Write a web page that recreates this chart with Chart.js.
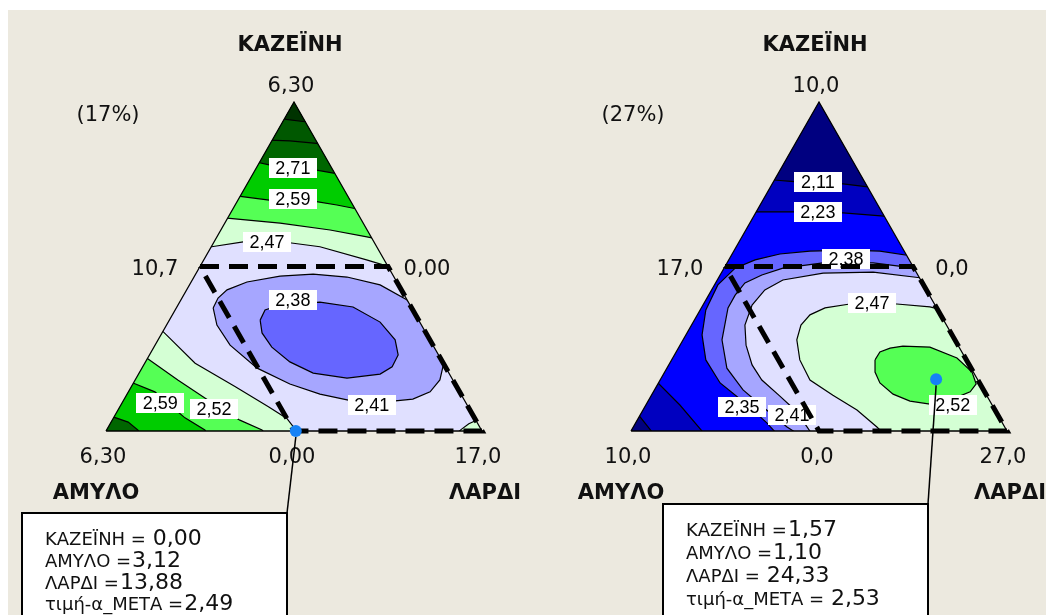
<!DOCTYPE html>
<html>
<head>
<meta charset="utf-8">
<script src="https://cdn.jsdelivr.net/npm/chart.js@4.4.1/dist/chart.umd.min.js"></script>
<style>
  html, body { margin: 0; padding: 0; background: #fff; }
  #stage { position: relative; width: 1046px; height: 615px; overflow: hidden; background: #fff; }
  #paper { position: absolute; left: 8px; top: 10px; right: 0; bottom: 0; background: #ECE9DF; }
  canvas { position: absolute; top: 0; }
  #cLeft { left: 0; }
  #cRight { left: 525px; }
</style>
</head>
<body>
<div id="stage">
  <div id="paper"></div>
  <canvas id="cLeft" width="525" height="615"></canvas>
  <canvas id="cRight" width="521" height="615"></canvas>
</div>
<script>
// Simplex frame used by both plots: x runs along the ΑΜΥΛΟ–ΛΑΡΔΙ base (0 → 1),
// y is the ΚΑΖΕΪΝΗ pseudo-fraction (0 at the base, 1 at the top vertex).

// ---------- 17% mixture ----------
const bounds17 = [0, 0, 10.7];          // lower bounds: ΚΑΖΕΪΝΗ, ΑΜΥΛΟ, ΛΑΡΔΙ
const total17 = 17;
const caps17 = [3.15, 3.15];             // upper limits of ΚΑΖΕΪΝΗ and ΑΜΥΛΟ (dashed region)
const ticks17 = ['6,30', '6,30', '17,0', '10,7', '0,00', '0,00'];
const top247_17 = [[0.265,0.562],[0.281,0.560],[0.365,0.575],[0.463,0.576],[0.569,0.560],[0.693,0.520],[0.737,0.505],[0.765,0.494]];
const top252_17 = [[0.31,0.650],[0.322,0.647],[0.463,0.632],[0.596,0.611],[0.694,0.590],[0.72,0.584]];
const top259_17 = [[0.34,0.717],[0.352,0.714],[0.434,0.702],[0.56,0.697],[0.614,0.687],[0.658,0.677],[0.675,0.673]];
const top271_17 = [[0.39,0.820],[0.405,0.816],[0.434,0.809],[0.56,0.793],[0.609,0.783],[0.625,0.780]];
const top283_17 = [[0.425,0.886],[0.434,0.884],[0.489,0.882],[0.56,0.874],[0.58,0.870]];
const top295_17 = [[0.465,0.952],[0.479,0.947],[0.529,0.940],[0.545,0.937]];
const low247_17 = [[0.145,0.305],[0.152,0.302],[0.237,0.206],[0.343,0.135],[0.432,0.074],[0.481,0.038],[0.505,0.003],[0.515,-0.01]];
const low252_17 = [[0.105,0.224],[0.112,0.219],[0.191,0.155],[0.287,0.082],[0.356,0.033],[0.415,0.003],[0.425,-0.01]];
const low259_17 = [[0.065,0.150],[0.072,0.146],[0.13,0.119],[0.17,0.079],[0.21,0.040],[0.263,0.003],[0.27,-0.01]];
const low271_17 = [[0.012,0.047],[0.019,0.043],[0.059,0.027],[0.085,0.003],[0.09,-0.01]];
const corner247_17 = [[0.93,-0.01],[0.945,0.005],[0.965,0.022],[0.99,0.035]];
const ring241_17 = [[0.285,0.374],[0.298,0.404],[0.322,0.429],[0.375,0.453],[0.463,0.471],[0.551,0.477],[0.641,0.468],[0.729,0.444],[0.801,0.398],[0.848,0.343],[0.883,0.277],[0.899,0.210],[0.888,0.155],[0.862,0.119],[0.816,0.097],[0.763,0.091],[0.657,0.091],[0.569,0.112],[0.489,0.143],[0.402,0.191],[0.330,0.261],[0.295,0.322]];
const ring238_17 = [[0.410,0.337],[0.423,0.368],[0.463,0.383],[0.569,0.392],[0.657,0.377],[0.729,0.331],[0.769,0.277],[0.777,0.231],[0.761,0.195],[0.729,0.173],[0.641,0.161],[0.551,0.176],[0.489,0.210],[0.441,0.255],[0.415,0.298]];
const labelValues17 = [2.71, 2.59, 2.47, 2.38, 2.41, 2.59, 2.52];
const labelSpots17 = [[0.497,0.799],[0.497,0.704],[0.428,0.574],[0.497,0.398],[0.707,0.079],[0.144,0.084],[0.287,0.068]];
const point17 = [0.00, 3.12, 13.88];     // ΚΑΖΕΪΝΗ, ΑΜΥΛΟ, ΛΑΡΔΙ
const response17 = 2.49;

// ---------- 27% mixture ----------
const bounds27 = [0, 0, 17.0];
const total27 = 27;
const caps27 = [5.0, 5.0];
const ticks27 = ['10,0', '10,0', '27,0', '17,0', '0,0', '0,0'];
const top211_27 = [[0.37,0.765],[0.380,0.763],[0.441,0.757],[0.564,0.751],[0.630,0.742],[0.645,0.739]];
const top223_27 = [[0.32,0.668],[0.332,0.666],[0.449,0.666],[0.564,0.663],[0.673,0.653],[0.69,0.650]];
const low223_27 = [[0.065,0.150],[0.072,0.146],[0.13,0.079],[0.191,-0.003],[0.2,-0.012]];
const low211_27 = [[0.015,0.048],[0.024,0.043],[0.056,-0.003],[0.06,-0.01]];
const arc235_27 = [[0.388,-0.009],[0.362,0.024],[0.303,0.085],[0.237,0.146],[0.199,0.216],[0.189,0.292],[0.199,0.368],[0.231,0.444],[0.277,0.495],[0.330,0.520],[0.396,0.538],[0.476,0.547],[0.582,0.550],[0.662,0.547],[0.747,0.532],[0.76,0.530]];
const arc238_27 = [[0.444,-0.009],[0.415,0.012],[0.351,0.073],[0.298,0.125],[0.255,0.191],[0.242,0.277],[0.258,0.374],[0.277,0.413],[0.303,0.450],[0.348,0.474],[0.404,0.495],[0.511,0.511],[0.644,0.511],[0.755,0.495],[0.77,0.492]];
const arc241_27 = [[0.481,-0.009],[0.465,0.018],[0.436,0.064],[0.396,0.106],[0.348,0.155],[0.322,0.201],[0.306,0.261],[0.303,0.322],[0.322,0.383],[0.356,0.429],[0.404,0.459],[0.511,0.480],[0.644,0.483],[0.774,0.465],[0.79,0.462]];
const arc247_27 = [[0.673,-0.009],[0.654,0.012],[0.601,0.064],[0.537,0.109],[0.476,0.155],[0.449,0.216],[0.441,0.277],[0.452,0.322],[0.476,0.353],[0.516,0.374],[0.582,0.386],[0.707,0.386],[0.795,0.377],[0.848,0.362]];
const ring252_27 = [[0.649,0.216],[0.662,0.240],[0.689,0.252],[0.723,0.258],[0.795,0.255],[0.867,0.222],[0.907,0.179],[0.918,0.143],[0.902,0.119],[0.848,0.094],[0.795,0.082],[0.742,0.091],[0.697,0.112],[0.662,0.146],[0.649,0.179]];
const labelValues27 = [2.11, 2.23, 2.38, 2.47, 2.35, 2.41, 2.52];
const labelSpots27 = [[0.497,0.757],[0.497,0.666],[0.572,0.523],[0.641,0.389],[0.295,0.073],[0.428,0.049],[0.856,0.079]];
const point27 = [1.57, 1.10, 24.33];
const response27 = 2.53;

const componentNames = ['ΚΑΖΕΪΝΗ', 'ΑΜΥΛΟ', 'ΛΑΡΔΙ'];
const responseName = 'τιμή-α_ΜΕΤΑ';

// contour band colours
const PALE = '#D4FFD4', G1 = '#55FF55', G2 = '#00CC00', G3 = '#006600', G4 = '#005800', G5 = '#003300';
const LAV = '#E0E0FF', B4 = '#A6A6FF', B3 = '#6666FF', B2 = '#0000FF', B1 = '#0000C0', B0 = '#000080';

const SANS = '"DejaVu Sans", Verdana, sans-serif';
const LABEL_FONT = '18px "Liberation Sans", Arial, sans-serif';

function fmt(v, d) { return v.toFixed(d).replace('.', ','); }

// component amounts -> simplex frame
function toFrame(comp, bounds, total) {
  const range = total - bounds[0] - bounds[1] - bounds[2];
  const k = (comp[0] - bounds[0]) / range;
  const l = (comp[2] - bounds[2]) / range;
  return { x: l + k / 2, y: k };
}

const xy = p => ({ x: p[0], y: p[1] });

// closes an open contour around the part of the simplex it encloses
function polygonFor(line, side) {
  const pts = line.map(xy);
  const f = pts[0], l = pts[pts.length - 1], F = 0.3;
  if (side === 'ring') return [...pts, pts[0]];
  if (side === 'top') return [...pts, {x: l.x + F, y: l.y}, {x: 0.5, y: 1 + F}, {x: f.x - F, y: f.y}, pts[0]];
  if (side === 'left') return [...pts, {x: l.x, y: -F}, {x: -F, y: -F}, {x: f.x - F, y: f.y}, pts[0]];
  return [...pts, {x: l.x + F, y: l.y}, {x: 1 + F, y: -F}, {x: f.x, y: -F}, pts[0]];
}

const panels = [
  {
    canvas: 'cLeft', padRight: 43, base: LAV, bounds: bounds17, total: total17, caps: caps17,
    ticks: ticks17, pct: '(17%)', labelValues: labelValues17, labelSpots: labelSpots17,
    point: point17, response: response17, gaps: [1, 0, 0, 0],
    box: { left: 22, top: 513, right: 287, step: 21.8 },
    bands: [
      { line: top247_17, side: 'top', color: PALE },
      { line: top252_17, side: 'top', color: G1 },
      { line: top259_17, side: 'top', color: G2 },
      { line: top271_17, side: 'top', color: G3 },
      { line: top283_17, side: 'top', color: G4 },
      { line: top295_17, side: 'top', color: G5 },
      { line: low247_17, side: 'left', color: PALE },
      { line: low252_17, side: 'left', color: G1 },
      { line: low259_17, side: 'left', color: G2 },
      { line: low271_17, side: 'left', color: G3 },
      { line: corner247_17, side: 'right', color: PALE },
      { line: ring241_17, side: 'ring', color: B4 },
      { line: ring238_17, side: 'ring', color: B3 }
    ]
  },
  {
    canvas: 'cRight', padRight: 39, base: B2, bounds: bounds27, total: total27, caps: caps27,
    ticks: ticks27, pct: '(27%)', labelValues: labelValues27, labelSpots: labelSpots27,
    point: point27, response: response27, gaps: [0, 0, 1, 1],
    box: { left: 138, top: 504, right: 403, step: 23 },
    bands: [
      { line: top223_27, side: 'top', color: B1 },
      { line: top211_27, side: 'top', color: B0 },
      { line: low223_27, side: 'left', color: B1 },
      { line: low211_27, side: 'left', color: B0 },
      { line: arc235_27, side: 'right', color: B3 },
      { line: arc238_27, side: 'right', color: B4 },
      { line: arc241_27, side: 'right', color: LAV },
      { line: arc247_27, side: 'right', color: PALE },
      { line: ring252_27, side: 'ring', color: G1 }
    ]
  }
];

function makePlugin(panel) {
  const X = (c, v) => c.scales.x.getPixelForValue(v);
  const Y = (c, v) => c.scales.y.getPixelForValue(v);
  function text(ctx, s, x, y, font, align) {
    ctx.font = font; ctx.textAlign = align || 'center'; ctx.textBaseline = 'alphabetic';
    ctx.fillStyle = '#111'; ctx.fillText(s, x, y);
  }
  return {
    id: 'mixtureFrame',
    beforeDatasetsDraw(chart) {
      const ctx = chart.ctx;
      ctx.save();
      ctx.beginPath();
      ctx.moveTo(X(chart, 0), Y(chart, 0));
      ctx.lineTo(X(chart, 1), Y(chart, 0));
      ctx.lineTo(X(chart, 0.5), Y(chart, 1));
      ctx.closePath();
      ctx.clip();
    },
    afterDatasetDraw(chart, args) {
      const ds = chart.data.datasets[args.index];
      if (!ds.endClip) return;
      const ctx = chart.ctx;
      ctx.restore();
      // contour level labels
      panel.labelValues.forEach((v, i) => {
        const cx = X(chart, panel.labelSpots[i][0]), cy = Y(chart, panel.labelSpots[i][1]);
        ctx.fillStyle = '#fff';
        ctx.fillRect(Math.round(cx - 24), Math.round(cy - 10), 48, 20);
        ctx.font = LABEL_FONT; ctx.textAlign = 'center'; ctx.textBaseline = 'middle';
        ctx.fillStyle = '#000';
        ctx.fillText(fmt(v, 2), cx, cy + 1);
      });
    },
    afterDatasetsDraw(chart) {
      const ctx = chart.ctx;
      const apx = X(chart, 0.5), apy = Y(chart, 1);
      const blx = X(chart, 0), bly = Y(chart, 0), brx = X(chart, 1);
      const c = panel.corners;
      const t = panel.ticks;
      const tickFont = '21px ' + SANS, nameFont = 'bold 21px ' + SANS;
      ctx.save();
      text(ctx, componentNames[0], apx - 4, apy - 51, nameFont);
      text(ctx, t[0], apx - 3, apy - 10, tickFont);
      text(ctx, panel.pct, blx + 2, apy + 19, tickFont);
      text(ctx, t[3], X(chart, c.tl.x) - 45, Y(chart, c.tl.y) + 8, tickFont);
      text(ctx, t[4], X(chart, c.tr.x) + 39, Y(chart, c.tr.y) + 8, tickFont);
      text(ctx, t[1], blx - 3, bly + 32, tickFont);
      text(ctx, t[5], X(chart, c.bm.x) - 2, bly + 32, tickFont);
      text(ctx, t[2], brx - 4, bly + 32, tickFont);
      text(ctx, componentNames[1], blx - 10, bly + 68, nameFont);
      text(ctx, componentNames[2], brx + 3, bly + 68, nameFont);

      // callout with the design point read-out
      const b = panel.box;
      const p = panel.pt;
      const dx = X(chart, p.x), dy = Y(chart, p.y);
      ctx.strokeStyle = '#000'; ctx.lineWidth = 1.5;
      ctx.beginPath(); ctx.moveTo(dx, dy + 6); ctx.lineTo(b.right, b.top); ctx.stroke();
      ctx.fillStyle = '#fff';
      ctx.fillRect(b.left, b.top, b.right - b.left, 140);
      ctx.lineWidth = 2;
      ctx.strokeRect(b.left, b.top, b.right - b.left, 140);
      const names = [...componentNames, responseName];
      const vals = [...panel.point, panel.response];
      names.forEach((n, i) => {
        const y = b.top + 32 + i * b.step;
        const head = n + ' =' + (panel.gaps[i] ? ' ' : '');
        ctx.font = '18px ' + SANS; ctx.textAlign = 'left'; ctx.fillStyle = '#111';
        ctx.fillText(head, b.left + 23, y);
        const w = ctx.measureText(head).width;
        ctx.font = '22px ' + SANS;
        ctx.fillText(fmt(vals[i], 2), b.left + 23 + w + 1, y);
      });
      ctx.restore();
    }
  };
}

panels.forEach(panel => {
  const fr = comp => toFrame(comp, panel.bounds, panel.total);
  const [B0k, B0a] = panel.bounds;
  const top = panel.total;
  // dashed feasible region: ΚΑΖΕΪΝΗ ≤ cap, ΑΜΥΛΟ ≤ cap
  const tl = fr([panel.caps[0], panel.caps[1], top - panel.caps[0] - panel.caps[1]]);
  const tr = fr([panel.caps[0], B0a, top - panel.caps[0] - B0a]);
  const br = fr([B0k, B0a, top - B0k - B0a]);
  const bm = fr([B0k, panel.caps[1], top - B0k - panel.caps[1]]);
  const pt = fr(panel.point);
  panel.corners = { tl, tr, br, bm };
  panel.pt = pt;

  const tri = [{x: 0, y: 0}, {x: 1, y: 0}, {x: 0.5, y: 1}, {x: 0, y: 0}];
  const datasets = [];
  datasets.push({ data: tri, fill: 'shape', backgroundColor: panel.base, borderWidth: 0, pointRadius: 0 });
  panel.bands.forEach(b => datasets.push({
    data: polygonFor(b.line, b.side), fill: 'shape', backgroundColor: b.color, borderWidth: 0, pointRadius: 0
  }));
  panel.bands.forEach((b, i) => {
    const pts = b.line.map(xy);
    if (b.side === 'ring') pts.push(pts[0]);
    datasets.push({ data: pts, fill: false, borderColor: '#000', borderWidth: 1.2, pointRadius: 0,
      endClip: i === panel.bands.length - 1 });
  });
  datasets.push({ data: tri, fill: false, borderColor: '#000', borderWidth: 1.3, pointRadius: 0, clip: false });
  datasets.push({ data: [tl, tr, br, bm, tl], fill: false, borderColor: '#000', borderWidth: 5,
    borderDash: [19, 10], borderCapStyle: 'butt', pointRadius: 0, clip: false });
  datasets.push({ data: [pt], showLine: false, fill: false, pointRadius: 6, pointBackgroundColor: '#1682F6',
    pointBorderWidth: 0, clip: false });
  datasets.forEach((d, i) => { d.order = datasets.length - i; });

  new Chart(document.getElementById(panel.canvas), {
    type: 'line',
    data: { datasets },
    options: {
      responsive: false,
      animation: false,
      events: [],
      layout: { padding: { left: 106, top: 102, right: panel.padRight, bottom: 184 } },
      scales: {
        x: { type: 'linear', min: 0, max: 1, display: false },
        y: { type: 'linear', min: 0, max: 1, display: false }
      },
      plugins: { legend: { display: false }, tooltip: { enabled: false } }
    },
    plugins: [makePlugin(panel)]
  });
});
</script>
</body>
</html>
